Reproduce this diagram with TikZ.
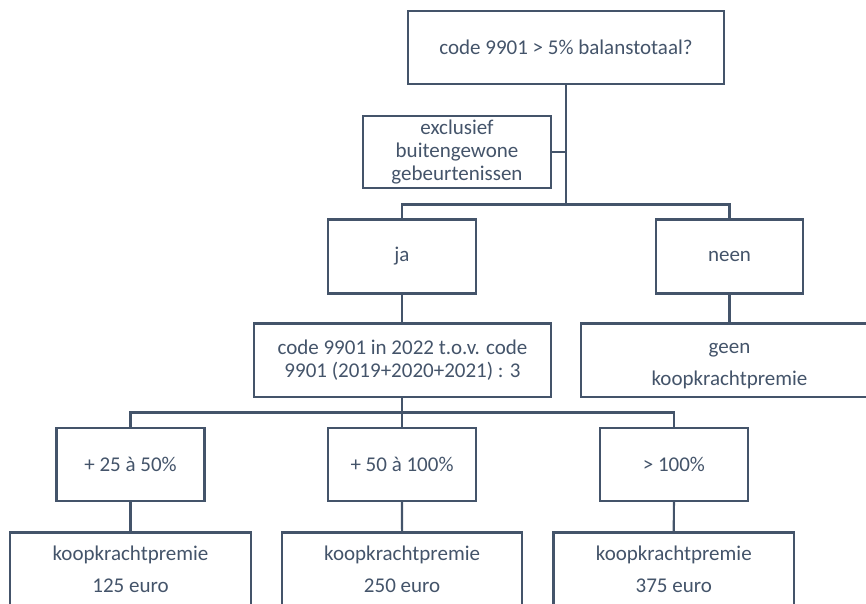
\documentclass[tikz,border=0pt]{standalone}
\usepackage{fontspec}
\setmainfont{Carlito}
\definecolor{slate}{HTML}{44546A}
\begin{document}
\begin{tikzpicture}[x=1pt,y=-1pt,
  box/.style={draw=slate, line width=2.2pt, fill=white, inner sep=0pt, align=center,
    text=slate, font=\fontsize{21}{23.3}\selectfont},
  wide/.style={font=\fontsize{21}{32}\selectfont},
  link/.style={draw=slate, line width=2.2pt}]
\useasboundingbox (0,0) rectangle (866,604);
\clip (0,0) rectangle (866,604);
% nodes
\node[box, minimum width=316pt, minimum height=73pt] (top) at (566,47.5) {code 9901 > 5\% balanstotaal?};
\node[box, minimum width=188pt, minimum height=72pt] (excl) at (457,152.2) {exclusief\\buitengewone\\gebeurtenissen};
\node[box, minimum width=147.5pt, minimum height=74pt] (ja) at (402,256.5) {ja};
\node[box, minimum width=147.5pt, minimum height=74pt] (neen) at (729.5,256.5) {neen};
\node[box, minimum width=297pt, minimum height=73.5pt] (mid) at (402.5,360.25) {code 9901 in 2022 t.o.v. code\\9901 (2019+2020+2021) : 3};
\node[box, wide, minimum width=297pt, minimum height=73.5pt] (geen) at (729.5,360.25) {\strut geen\\koopkrachtpremie};
\node[box, minimum width=148pt, minimum height=73pt] (p1) at (130.5,464.5) {+ 25 à 50\%};
\node[box, minimum width=147.5pt, minimum height=73pt] (p2) at (402,464.5) {+ 50 à 100\%};
\node[box, minimum width=147.7pt, minimum height=73pt] (p3) at (673.9,464.5) {> 100\%};
\node[box, wide, minimum width=241pt, minimum height=74pt] (b1) at (130.5,569.5) {koopkrachtpremie\\125 euro};
\node[box, wide, minimum width=240.3pt, minimum height=74pt] (b2) at (402.1,569.5) {koopkrachtpremie\\250 euro};
\node[box, wide, minimum width=240.5pt, minimum height=74pt] (b3) at (673.8,569.5) {koopkrachtpremie\\375 euro};
% connectors
\coordinate (bus1) at (566,204.5);
\coordinate (bus2) at (402,412.5);
\draw[link] (top.south) -- (bus1);
\draw[link] (excl.east) -- (excl.east -| top.south);
\draw[link] (ja.north) -- (ja.north |- bus1) -- (neen.north |- bus1) -- (neen.north);
\draw[link] (ja.south) -- (mid.north -| ja.south);
\draw[link] (neen.south) -- (geen.north);
\draw[link] (mid.south -| bus2) -- (p2.north);
\draw[link] (p1.north) -- (p1.north |- bus2) -- (p3.north |- bus2) -- (p3.north);
\draw[link] (p1.south) -- (b1.north);
\draw[link] (p2.south) -- (b2.north);
\draw[link] (p3.south) -- (b3.north);
\end{tikzpicture}
\end{document}
